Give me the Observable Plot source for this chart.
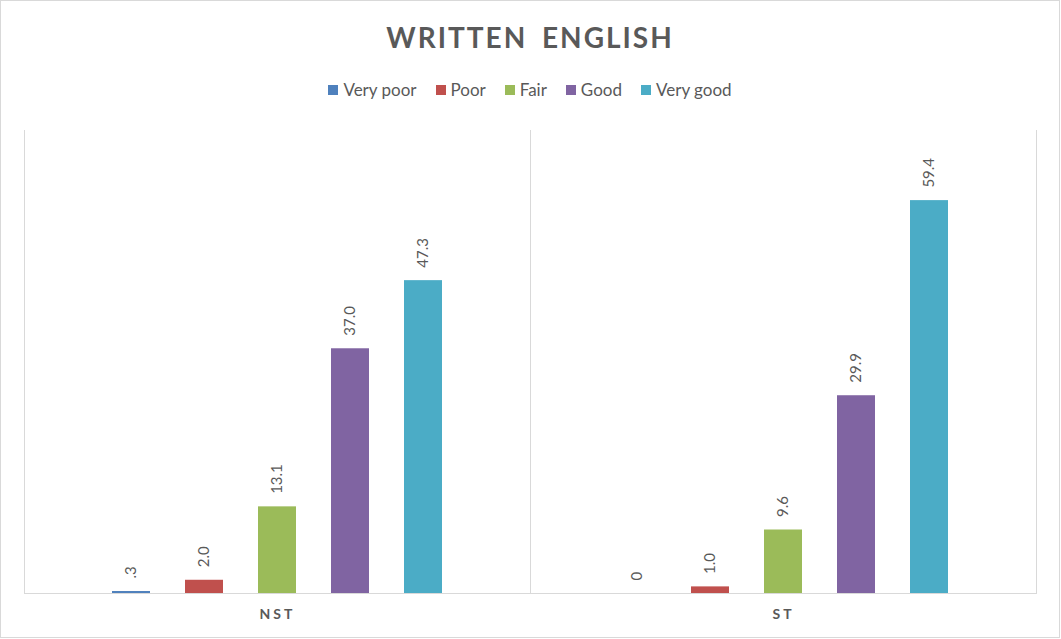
<!DOCTYPE html>
<html>
<head>
<meta charset="utf-8">
<script src="https://cdn.jsdelivr.net/npm/d3@7"></script>
<script src="https://cdn.jsdelivr.net/npm/@observablehq/plot@0.6"></script>
<style>
  html, body { margin: 0; padding: 0; background: #fff; }
  #frame {
    position: relative; width: 1060px; height: 638px; box-sizing: border-box;
    border: 1px solid #d9d9d9; background: #fff; font-family: Lato, "Open Sans", sans-serif;
    color: #595959; overflow: hidden;
  }
  #header { height: 119px; position: relative; }
  #title {
    position: absolute; top: 19px; left: 0; right: 0; text-align: center;
    font-size: 28px; font-weight: bold; letter-spacing: 2px; color: #595959; word-spacing: 6px;
  }
  #legend {
    position: absolute; top: 78px; left: 0; right: 0; display: flex; justify-content: center;
    gap: 19px; font-size: 17px; color: #595959;
  }
  #legend .item { display: flex; align-items: center; gap: 5px; }
  #legend .sw { width: 10px; height: 10px; display: inline-block; }
  g[aria-label="fx-axis tick label"] text { letter-spacing: 3px; }
</style>
</head>
<body>
<div id="frame">
  <div id="header">
    <div id="title">WRITTEN ENGLISH</div>
    <div id="legend"></div>
  </div>
  <div id="chart"></div>
</div>
<script>
const groups = ["NST", "ST"];
const ratings = ["Very poor", "Poor", "Fair", "Good", "Very good"];
const colors = ["#4F81BD", "#C0504D", "#9BBB59", "#8064A2", "#4BACC6"];
const nstValues = [0.3, 2.0, 13.1, 37.0, 47.3];
const stValues = [0, 1.0, 9.6, 29.9, 59.4];
const nstLabels = [".3", "2.0", "13.1", "37.0", "47.3"];
const stLabels = ["0", "1.0", "9.6", "29.9", "59.4"];

const data = [];
ratings.forEach((r, i) => data.push({group: "NST", rating: r, value: nstValues[i], label: nstLabels[i]}));
ratings.forEach((r, i) => data.push({group: "ST", rating: r, value: stValues[i], label: stLabels[i]}));

// legend
const legend = document.getElementById("legend");
ratings.forEach((r, i) => {
  const it = document.createElement("div");
  it.className = "item";
  const sw = document.createElement("span");
  sw.className = "sw";
  sw.style.background = colors[i];
  const tx = document.createElement("span");
  tx.textContent = r;
  it.appendChild(sw); it.appendChild(tx);
  legend.appendChild(it);
});

const chart = Plot.plot({
  width: 1058,
  height: 517,
  marginLeft: 22,
  marginRight: 23,
  marginTop: 10,
  marginBottom: 44,
  style: {fontFamily: "Lato, 'Open Sans', sans-serif", color: "#595959", background: "#fff"},
  fx: {domain: groups, padding: 0, label: null},
  x: {domain: ratings, paddingInner: 0.473, paddingOuter: 1.162, axis: null},
  y: {domain: [0, 70], axis: null},
  color: {domain: ratings, range: colors},
  marks: [
    Plot.frame({anchor: "left", stroke: "#d9d9d9"}),
    Plot.frame({anchor: "right", stroke: "#d9d9d9"}),
    Plot.barY(data, {fx: "group", x: "rating", y: "value", fill: "rating"}),
    Plot.ruleY([0], {stroke: "#d9d9d9", strokeWidth: 1}),
    Plot.text(data, {fx: "group", x: "rating", y: "value", text: "label", rotate: -90,
      textAnchor: "start", dy: -13, fontSize: 15, fill: "#595959"}),
    Plot.axisFx({anchor: "bottom", tickSize: 0, tickPadding: 16, fontSize: 14, fontWeight: "bold", label: null, color: "#595959"})
  ]
});
document.getElementById("chart").appendChild(chart);
</script>
</body>
</html>
